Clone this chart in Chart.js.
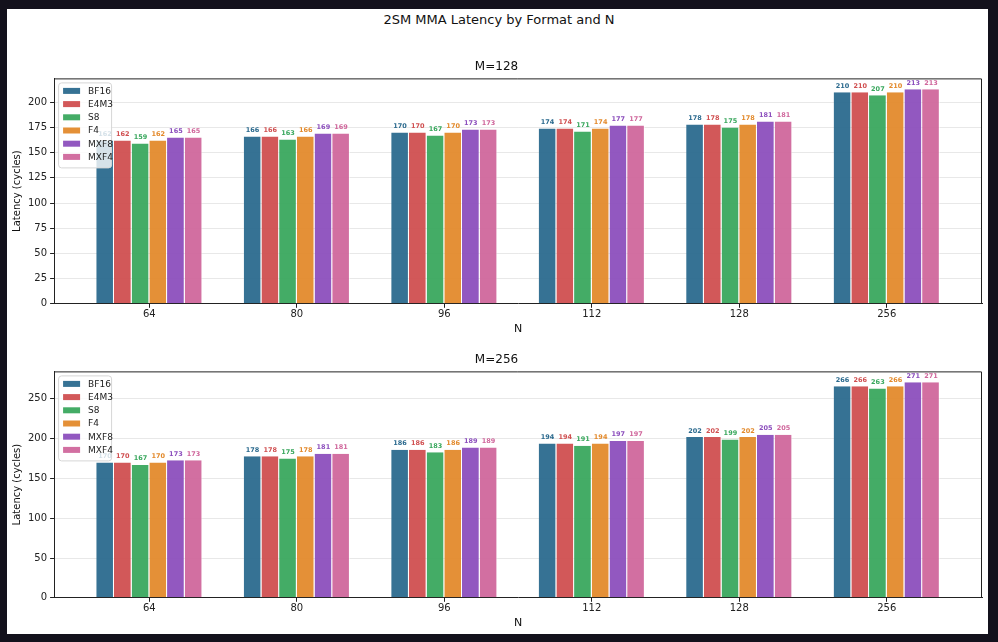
<!DOCTYPE html>
<html lang="en">
<head>
<meta charset="UTF-8">
<title>2SM MMA Latency by Format and N</title>
<script src="https://cdn.jsdelivr.net/npm/chart.js"></script>
<style>
  html, body { margin: 0; padding: 0; background: #13111c; }
  body { width: 998px; height: 642px; position: relative; overflow: hidden; font-family: "DejaVu Sans", sans-serif; }
  #card { position: absolute; left: 7px; top: 9px; width: 981px; height: 625px; background: #fff; }
  #title { position: absolute; left: 0; width: 998px; top: 12px; text-align: center; font-size: 13px; color: #111; }
  .wrap { position: absolute; left: 7px; width: 981px; }
</style>
</head>
<body>
<div id="card"></div>
<div id="title">2SM MMA Latency by Format and N</div>
<div class="wrap" style="top:60px;height:276px"><canvas id="c128"></canvas></div>
<div class="wrap" style="top:353px;height:277px"><canvas id="c256"></canvas></div>
<script>
const nValues = ['64', '80', '96', '112', '128', '256'];
const formats = ['BF16', 'E4M3', 'S8', 'F4', 'MXF8', 'MXF4'];
const colors = ['#2b6a8e', '#d04f50', '#3aa85e', '#e38a2c', '#8c4fbd', '#d0679c'];

// latency per format (rows) for each N (columns)
const m128 = [
  [162, 166, 170, 174, 178, 210],
  [162, 166, 170, 174, 178, 210],
  [159, 163, 167, 171, 175, 207],
  [162, 166, 170, 174, 178, 210],
  [165, 169, 173, 177, 181, 213],
  [165, 169, 173, 177, 181, 213]
];
const m256 = [
  [170, 178, 186, 194, 202, 266],
  [170, 178, 186, 194, 202, 266],
  [167, 175, 183, 191, 199, 263],
  [170, 178, 186, 194, 202, 266],
  [173, 181, 189, 197, 205, 271],
  [173, 181, 189, 197, 205, 271]
];
const ticks128 = [0, 25, 50, 75, 100, 125, 150, 175, 200];
const ticks256 = [0, 50, 100, 150, 200, 250];

function hexA(hex, a) {
  const n = parseInt(hex.slice(1), 16);
  return `rgba(${n >> 16},${(n >> 8) & 255},${n & 255},${a})`;
}

const labelPlugin = {
  id: 'valueLabels',
  afterDatasetsDraw(chart) {
    const ctx = chart.ctx;
    ctx.save();
    ctx.font = 'bold 6.5px "DejaVu Sans"';
    ctx.textAlign = 'center';
    ctx.textBaseline = 'bottom';
    chart.data.datasets.forEach((ds, di) => {
      const meta = chart.getDatasetMeta(di);
      meta.data.forEach((bar, i) => {
        ctx.fillStyle = colors[di];
        ctx.fillText(String(ds.data[i].y), bar.x, bar.y - 3);
      });
    });
    // legend box
    const a = chart.chartArea;
    const x0 = a.left + 4, y0 = a.top + 4, w = 53, h = 85;
    ctx.fillStyle = 'rgba(255,255,255,0.8)';
    ctx.strokeStyle = '#d6d6d6';
    ctx.lineWidth = 1;
    ctx.beginPath();
    ctx.roundRect(x0 + 0.5, y0 + 0.5, w, h, 3);
    ctx.fill();
    ctx.stroke();
    ctx.font = '9px "DejaVu Sans"';
    ctx.textAlign = 'left';
    ctx.textBaseline = 'middle';
    formats.forEach((f, i) => {
      const y = y0 + 8.5 + i * 13.2;
      ctx.fillStyle = hexA(colors[i], 0.95);
      ctx.fillRect(x0 + 5, y - 3, 17, 6);
      ctx.fillStyle = '#222';
      ctx.fillText(f, x0 + 30, y + 0.5);
    });
    ctx.restore();
  }
};

function makeChart(id, title, series, tickList, yMax) {
  return new Chart(document.getElementById(id), {
    type: 'bar',
    data: {
      datasets: formats.map((f, di) => ({
        label: f,
        data: series[di].map((v, i) => ({ x: i, y: v })),
        backgroundColor: hexA(colors[di], 0.95),
        borderColor: 'rgba(255,255,255,0.6)',
        borderWidth: { left: 0, right: 1, top: 0, bottom: 0 },
        categoryPercentage: 0.72,
        barPercentage: 1.0
      }))
    },
    options: {
      responsive: true,
      maintainAspectRatio: false,
      animation: false,
      layout: { padding: { left: 4, right: 6, top: 0, bottom: 0 } },
      plugins: {
        legend: { display: false },
        tooltip: { enabled: false },
        title: { display: true, text: title, color: '#111', font: { family: 'DejaVu Sans', size: 12, weight: 'normal' }, padding: { top: 0, bottom: 4 } }
      },
      scales: {
        x: {
          type: 'linear',
          offset: false,
          min: -0.646,
          max: 5.646,
          afterBuildTicks: s => { s.ticks = nValues.map((n, i) => ({ value: i })); },
          ticks: { callback: v => nValues[v], color: '#222', font: { family: 'DejaVu Sans', size: 10 }, maxRotation: 0, padding: 1 },
          grid: { display: true, offset: false, drawOnChartArea: false, drawTicks: true, tickLength: 4, color: '#222' },
          border: { display: true, color: '#222', width: 1 },
          title: { display: true, text: 'N', color: '#111', font: { family: 'DejaVu Sans', size: 11 }, padding: { top: 1, bottom: 0 } }
        },
        y: {
          min: 0,
          max: yMax,
          afterBuildTicks: s => { s.ticks = tickList.map(v => ({ value: v })); },
          ticks: { color: '#222', font: { family: 'DejaVu Sans', size: 10 }, padding: 3 },
          grid: { color: 'rgba(0,0,0,0.09)', tickColor: '#222', tickLength: 4, lineWidth: 1 },
          border: { display: true, color: '#222', width: 1 },
          title: { display: true, text: 'Latency (cycles)', color: '#111', font: { family: 'DejaVu Sans', size: 10 }, padding: { top: 0, bottom: 2 } }
        }
      }
    },
    plugins: [labelPlugin, {
      id: 'frame',
      afterDraw(chart) {
        const a = chart.chartArea, ctx = chart.ctx;
        ctx.save();
        ctx.strokeStyle = '#222';
        ctx.lineWidth = 1;
        ctx.beginPath();
        ctx.moveTo(a.left, a.top + 0.5);
        ctx.lineTo(a.right - 0.5, a.top + 0.5);
        ctx.lineTo(a.right - 0.5, a.bottom);
        ctx.stroke();
        ctx.restore();
      }
    }]
  });
}

makeChart('c128', 'M=128', m128, ticks128, 223.65);
makeChart('c256', 'M=256', m256, ticks256, 284.55);
</script>
</body>
</html>
